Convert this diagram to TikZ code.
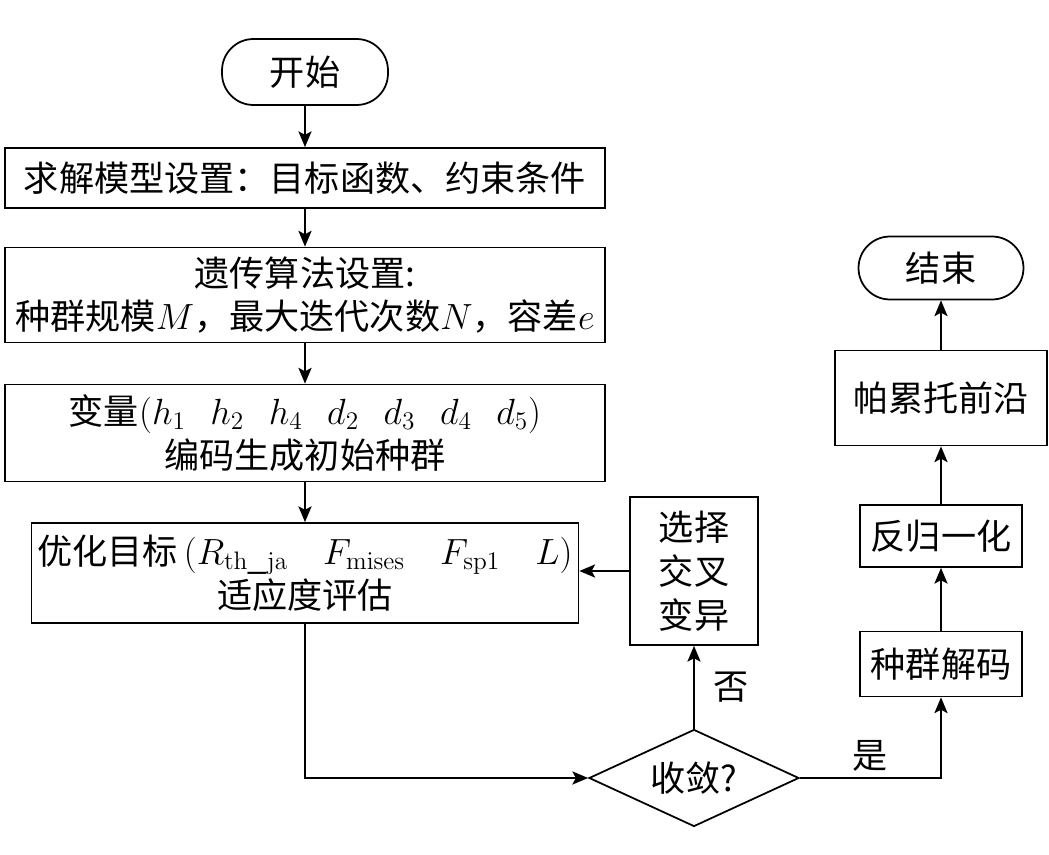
\documentclass[tikz,border=0pt]{standalone}
\usepackage[no-math]{fontspec}
\setmainfont{Noto Sans CJK SC}
\usetikzlibrary{arrows.meta,positioning,shapes.geometric}

\begin{document}
\begin{tikzpicture}[x=0.02cm,y=-0.02cm,font=\fontsize{20}{25}\selectfont,
  box/.style={draw,line width=1pt,align=center,inner sep=0pt},
  term/.style={box,rounded corners=0.63cm},
  arr/.style={-{Stealth[length=9pt,width=7.5pt,inset=2pt]},line width=1pt}]
\useasboundingbox (0,0) rectangle (1049,855);
\node[term,minimum width=3.32cm,minimum height=1.32cm] (start) at (305,72) {开始};
\node[box,minimum width=12cm,minimum height=1.2cm] (setup) at (305,178) {求解模型设置：目标函数、约束条件};
\node[box,minimum width=12cm,minimum height=1.9cm] (ga) at (305,295) {遗传算法设置:\\种群规模$M$，最大迭代次数$N$，容差$e$};
\node[box,minimum width=12cm,minimum height=1.94cm] (var) at (305,433) {变量$(h_1\hspace{0.7em}h_2\hspace{0.7em}h_4\hspace{0.7em}d_2\hspace{0.7em}d_3\hspace{0.7em}d_4\hspace{0.7em}d_5)$\\编码生成初始种群};
\node[box,minimum width=10.94cm,minimum height=2cm] (fit) at (305,573) {优化目标\,$(R_{\mathrm{th\_ja}}\quad F_{\mathrm{mises}}\quad F_{\mathrm{sp1}}\quad L)$\\适应度评估};
\node[box,minimum width=2.56cm,minimum height=2.96cm] (sel) at (694,571) {选择\\交叉\\变异};
\node[draw,line width=1pt,diamond,aspect=2.16,minimum width=4.2cm,minimum height=1.94cm,inner sep=0pt] (conv) at (694,778) {收敛?};
\node[box,minimum width=3.24cm,minimum height=1.3cm] (decode) at (941,664) {种群解码};
\node[box,minimum width=3.24cm,minimum height=1.24cm] (denorm) at (941,536) {反归一化};
\node[box,minimum width=4.24cm,minimum height=1.9cm] (pareto) at (941,398) {帕累托前沿};
\node[term,minimum width=3.3cm,minimum height=1.26cm] (end) at (941,268) {结束};

\draw[arr] (start) -- (setup);
\draw[arr] (setup) -- (ga);
\draw[arr] (ga) -- (var);
\draw[arr] (var) -- (fit);
\draw[arr] (fit.south) |- (conv.west);
\draw[arr] (conv.north) -- (sel.south) node[midway,right=0.25cm] (no) {否};
\draw[arr] (sel.west) -- (sel.west -| fit.east);
\draw[arr] (conv.east) -| (decode.south) node[pos=0.25,above] (yes) {是};
\draw[arr] (decode) -- (denorm);
\draw[arr] (denorm) -- (pareto);
\draw[arr] (pareto) -- (end);
\end{tikzpicture}
\end{document}
